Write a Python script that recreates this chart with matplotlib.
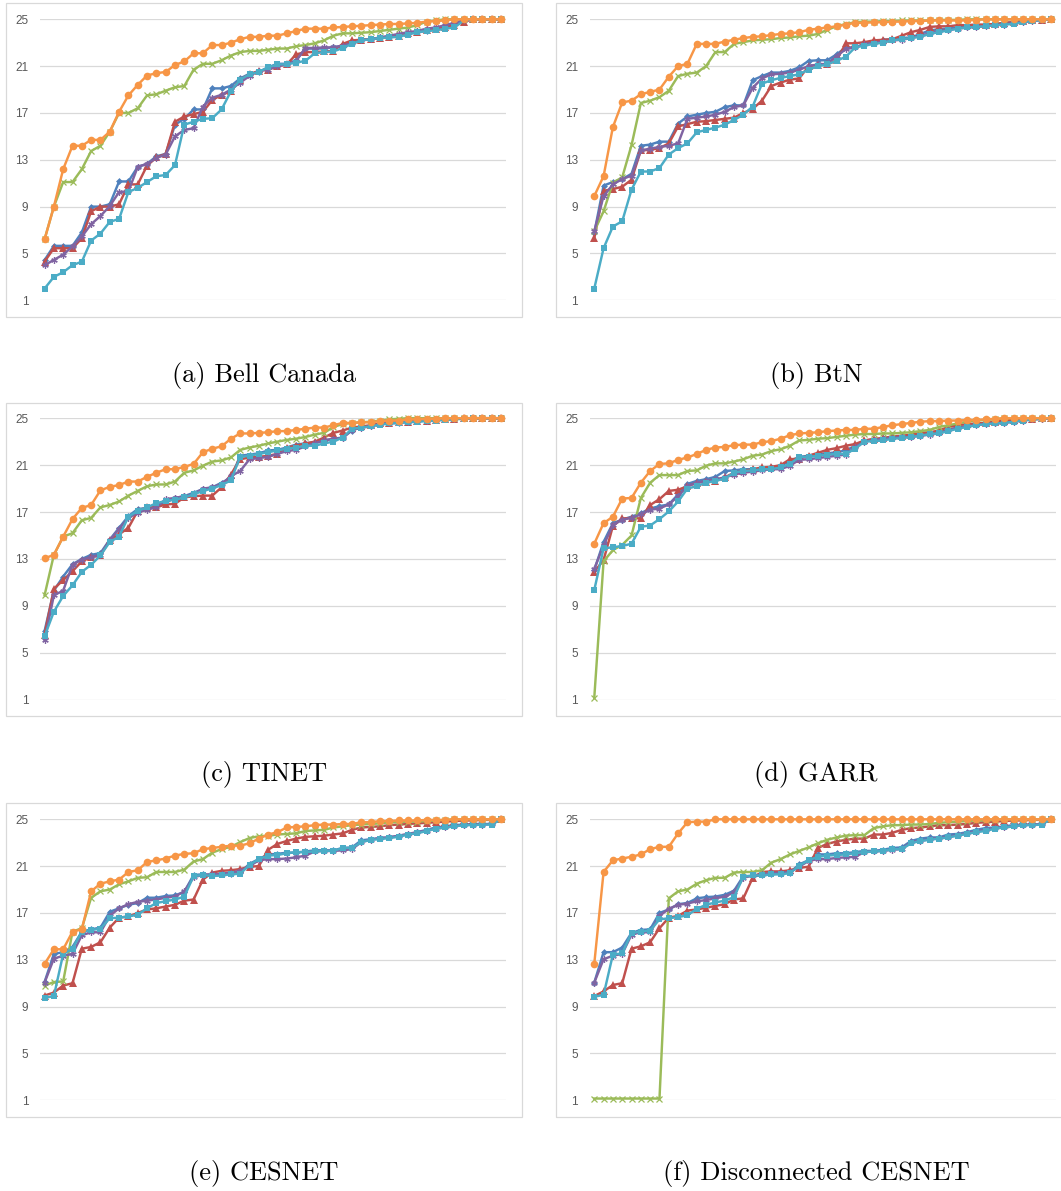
import matplotlib
matplotlib.use("Agg")
import matplotlib.pyplot as plt
from matplotlib.patches import Rectangle

# ------------------------------------------------------------------ data
x_points = list(range(1, 51))
y_ticks = [1, 5, 9, 13, 17, 21, 25]
captions = ["(a) Bell Canada", "(b) BtN", "(c) TINET", "(d) GARR",
            "(e) CESNET", "(f) Disconnected CESNET"]

# (a) Bell Canada
a_blue = [4.43, 5.65, 5.65, 5.65, 6.8, 9.0, 9.0, 9.2, 11.15, 11.15,
          12.4, 12.65, 13.3, 13.5, 16.0, 16.5, 17.3, 17.3, 19.1, 19.1,
          19.3, 19.95, 20.35, 20.5, 20.9, 21.2, 21.2, 21.5, 22.5, 22.5,
          22.5, 22.6, 22.75, 23.0, 23.25, 23.3, 23.4, 23.5, 23.6, 23.75,
          23.9, 24.0, 24.2, 24.4, 24.6, 24.85, 25, 25, 25, 25]
a_red = [4.3, 5.45, 5.45, 5.45, 6.3, 8.6, 9.0, 9.0, 9.2, 10.9,
         10.9, 12.5, 13.2, 13.5, 16.25, 16.7, 16.9, 17.1, 18.1, 18.55,
         18.85, 19.85, 20.3, 20.6, 20.7, 21.0, 21.15, 22.0, 22.2, 22.2,
         22.25, 22.3, 22.9, 23.2, 23.25, 23.3, 23.4, 23.5, 23.6, 23.8,
         23.95, 24.1, 24.2, 24.3, 24.5, 24.8, 25, 25, 25, 25]
a_green = [6.2, 9.0, 11.1, 11.1, 12.2, 13.75, 14.2, 15.4, 17.0, 17.0,
           17.4, 18.5, 18.6, 18.9, 19.2, 19.3, 20.7, 21.2, 21.2, 21.5,
           21.9, 22.2, 22.3, 22.3, 22.4, 22.5, 22.5, 22.7, 22.8, 22.95,
           23.2, 23.6, 23.8, 23.8, 23.85, 23.9, 24.0, 24.1, 24.2, 24.3,
           24.5, 24.8, 24.9, 25, 25, 25, 25, 25, 25, 25]
a_purple = [4.0, 4.45, 4.9, 5.6, 6.45, 7.5, 8.2, 9.05, 10.25, 10.3,
            12.4, 12.65, 13.15, 13.45, 15.0, 15.55, 15.7, 17.55, 18.3, 18.55,
            19.0, 19.6, 20.15, 20.6, 20.7, 21.0, 21.15, 21.45, 22.55, 22.55,
            22.6, 22.6, 22.75, 22.95, 23.2, 23.3, 23.45, 23.6, 23.75, 23.9,
            24.0, 24.2, 24.3, 24.5, 24.7, 24.9, 25, 25, 25, 25]
a_cyan = [2.0, 3.0, 3.4, 4.0, 4.3, 6.1, 6.7, 7.7, 7.95, 10.25,
          10.6, 11.1, 11.6, 11.7, 12.55, 16.0, 16.25, 16.5, 16.55, 17.3,
          18.85, 19.85, 20.3, 20.5, 20.9, 21.15, 21.15, 21.3, 21.45, 22.1,
          22.2, 22.25, 22.55, 22.9, 23.2, 23.3, 23.4, 23.45, 23.5, 23.7,
          23.9, 24.0, 24.05, 24.2, 24.3, 24.9, 25, 25, 25, 25]
a_orange = [6.2, 9.0, 12.2, 14.2, 14.2, 14.7, 14.7, 15.4, 17.1, 18.5,
            19.4, 20.2, 20.4, 20.5, 21.1, 21.4, 22.1, 22.1, 22.8, 22.8,
            23.0, 23.3, 23.5, 23.5, 23.6, 23.6, 23.8, 24.0, 24.2, 24.2,
            24.2, 24.3, 24.35, 24.4, 24.45, 24.5, 24.55, 24.6, 24.6, 24.65,
            24.7, 24.8, 24.85, 24.9, 25, 25, 25, 25, 25, 25]

# (b) BtN
b_blue = [6.75, 10.8, 11.1, 11.35, 11.8, 14.2, 14.3, 14.55, 14.55, 16.1,
          16.7, 16.85, 17.0, 17.1, 17.5, 17.65, 17.65, 19.8, 20.15, 20.45,
          20.45, 20.6, 20.9, 21.45, 21.5, 21.5, 22.0, 22.6, 22.6, 22.9,
          23.1, 23.25, 23.3, 23.4, 23.45, 23.75, 24.05, 24.15, 24.2, 24.3,
          24.35, 24.4, 24.5, 24.55, 24.7, 24.75, 24.85, 24.9, 24.95, 25]
b_red = [6.3, 10.35, 10.5, 10.7, 11.3, 13.8, 13.85, 14.0, 14.4, 15.85,
         16.05, 16.25, 16.3, 16.4, 16.5, 16.6, 17.0, 17.35, 18.05, 19.3,
         19.6, 19.85, 19.95, 21.0, 21.1, 21.15, 21.5, 22.95, 22.95, 23.05,
         23.2, 23.25, 23.3, 23.6, 23.9, 24.1, 24.35, 24.4, 24.4, 24.5,
         24.5, 24.55, 24.55, 24.6, 24.7, 24.75, 24.85, 24.9, 24.95, 25]
b_green = [6.9, 8.6, 11.05, 11.5, 14.25, 17.85, 18.05, 18.35, 18.9, 20.15,
           20.35, 20.45, 21.0, 22.2, 22.2, 22.9, 23.05, 23.2, 23.25, 23.3,
           23.4, 23.45, 23.55, 23.6, 23.75, 24.1, 24.4, 24.6, 24.75, 24.8,
           24.8, 24.85, 24.85, 24.9, 24.9, 24.9, 24.9, 24.95, 24.95, 24.95,
           25, 25, 25, 25, 25, 25, 25, 25, 25, 25]
b_purple = [6.9, 9.9, 10.9, 11.35, 11.65, 13.8, 13.95, 14.1, 14.2, 14.4,
            16.5, 16.6, 16.7, 16.85, 17.1, 17.5, 17.65, 19.15, 19.95, 20.3,
            20.35, 20.45, 20.7, 21.0, 21.15, 21.2, 21.85, 22.45, 22.6, 22.85,
            23.0, 23.1, 23.2, 23.25, 23.4, 23.6, 23.8, 24.0, 24.1, 24.2,
            24.3, 24.35, 24.4, 24.5, 24.55, 24.7, 24.75, 24.85, 24.95, 25]
b_cyan = [2.0, 5.45, 7.3, 7.75, 10.45, 12.0, 12.0, 12.3, 13.45, 14.0,
          14.4, 15.35, 15.55, 15.75, 16.0, 16.4, 16.85, 17.55, 19.5, 19.8,
          20.0, 20.15, 20.3, 20.7, 21.0, 21.15, 21.45, 21.8, 22.6, 22.75,
          22.9, 23.0, 23.2, 23.3, 23.4, 23.5, 23.75, 23.9, 24.05, 24.2,
          24.3, 24.35, 24.4, 24.5, 24.55, 24.6, 24.75, 24.85, 24.95, 25]
b_orange = [9.9, 11.6, 15.8, 17.9, 18.05, 18.6, 18.8, 19.0, 20.1, 21.0,
            21.2, 22.9, 22.9, 22.9, 23.1, 23.25, 23.4, 23.5, 23.55, 23.65,
            23.75, 23.8, 23.9, 24.1, 24.2, 24.3, 24.4, 24.55, 24.7, 24.7,
            24.75, 24.75, 24.8, 24.8, 24.85, 24.85, 24.9, 24.9, 24.9, 24.9,
            24.9, 24.95, 25, 25, 25, 25, 25, 25, 25, 25]

# (c) TINET
c_blue = [6.85, 10.3, 11.5, 12.55, 13.0, 13.35, 13.5, 14.65, 15.65, 16.65,
          17.25, 17.35, 17.5, 17.8, 18.2, 18.35, 18.65, 18.95, 19.1, 19.5,
          19.9, 21.8, 21.9, 22.0, 22.25, 22.3, 22.5, 22.75, 22.85, 22.95,
          23.1, 23.25, 23.35, 23.95, 24.25, 24.35, 24.5, 24.55, 24.6, 24.7,
          24.75, 24.8, 24.85, 24.9, 24.95, 25, 25, 25, 25, 25]
c_red = [6.55, 10.45, 11.2, 11.95, 12.8, 13.15, 13.3, 14.6, 15.1, 15.65,
         17.1, 17.4, 17.4, 17.65, 17.7, 18.25, 18.35, 18.4, 18.4, 19.1,
         20.2, 21.5, 21.65, 21.7, 21.8, 21.95, 22.5, 22.65, 22.85, 23.0,
         23.35, 23.75, 23.95, 24.2, 24.3, 24.4, 24.55, 24.6, 24.65, 24.7,
         24.75, 24.8, 24.85, 24.9, 24.95, 25, 25, 25, 25, 25]
c_green = [9.9, 13.35, 14.9, 15.2, 16.3, 16.5, 17.4, 17.6, 17.9, 18.4,
           18.8, 19.2, 19.35, 19.35, 19.6, 20.35, 20.55, 20.95, 21.3, 21.4,
           21.65, 22.3, 22.5, 22.65, 22.85, 23.0, 23.15, 23.25, 23.4, 23.6,
           23.75, 24.25, 24.5, 24.6, 24.65, 24.7, 24.8, 24.9, 24.95, 25,
           25, 25, 25, 25, 25, 25, 25, 25, 25, 25]
c_purple = [6.05, 9.9, 10.3, 12.5, 12.95, 13.15, 13.35, 14.6, 15.55, 16.5,
            16.95, 17.2, 17.4, 18.1, 18.2, 18.35, 18.5, 19.0, 19.1, 19.4,
            20.05, 20.5, 21.5, 21.6, 21.7, 21.95, 22.2, 22.3, 22.6, 22.85,
            23.1, 23.25, 23.3, 24.0, 24.2, 24.3, 24.5, 24.6, 24.65, 24.7,
            24.75, 24.8, 24.85, 24.9, 24.95, 25, 25, 25, 25, 25]
c_cyan = [6.4, 8.5, 9.85, 10.75, 11.9, 12.5, 13.3, 14.45, 14.9, 16.6,
          17.1, 17.4, 17.75, 17.95, 18.05, 18.25, 18.5, 18.8, 19.0, 19.3,
          19.7, 21.7, 21.8, 21.95, 22.1, 22.25, 22.4, 22.5, 22.65, 22.65,
          22.85, 23.0, 23.35, 24.1, 24.2, 24.3, 24.45, 24.55, 24.6, 24.65,
          24.7, 24.75, 24.8, 24.85, 24.9, 24.95, 25, 25, 25, 25]
c_orange = [13.05, 13.35, 14.9, 16.4, 17.35, 17.6, 18.85, 19.15, 19.3, 19.6,
            19.6, 20.0, 20.35, 20.65, 20.65, 20.85, 21.1, 22.1, 22.4, 22.6,
            23.25, 23.7, 23.7, 23.75, 23.8, 23.9, 23.9, 24.0, 24.1, 24.2,
            24.2, 24.4, 24.6, 24.6, 24.65, 24.65, 24.75, 24.8, 24.8, 24.9,
            24.9, 24.95, 24.95, 25, 25, 25, 25, 25, 25, 25]

# (d) GARR
d_blue = [12.05, 14.45, 16.05, 16.35, 16.6, 16.9, 17.3, 17.5, 17.65, 18.5,
          19.4, 19.65, 19.8, 20.0, 20.5, 20.55, 20.65, 20.65, 20.7, 20.8,
          20.95, 21.35, 21.7, 21.8, 21.95, 22.0, 22.1, 22.25, 22.65, 23.05,
          23.15, 23.3, 23.4, 23.4, 23.45, 23.6, 23.7, 23.8, 24.0, 24.2,
          24.3, 24.5, 24.55, 24.6, 24.7, 24.8, 24.85, 24.9, 24.95, 25]
d_red = [11.9, 12.9, 15.8, 16.45, 16.5, 16.45, 17.6, 18.1, 18.8, 18.9,
         19.2, 19.5, 19.6, 19.65, 19.95, 20.35, 20.5, 20.65, 20.8, 20.85,
         21.0, 21.5, 21.55, 21.8, 22.05, 22.3, 22.45, 22.65, 22.8, 23.1,
         23.25, 23.3, 23.45, 23.5, 23.6, 23.75, 23.8, 23.95, 24.25, 24.4,
         24.5, 24.55, 24.6, 24.7, 24.8, 24.85, 24.9, 24.95, 25, 25]
d_green = [1.15, 12.8, 13.75, 14.2, 15.0, 18.2, 19.5, 20.15, 20.15, 20.15,
           20.5, 20.55, 20.95, 21.15, 21.15, 21.3, 21.5, 21.8, 21.9, 22.2,
           22.35, 22.65, 23.1, 23.15, 23.25, 23.3, 23.4, 23.5, 23.6, 23.65,
           23.65, 23.7, 23.7, 23.75, 23.8, 23.9, 24.0, 24.25, 24.4, 24.55,
           24.7, 24.8, 24.85, 24.9, 25, 25, 25, 25, 25, 25]
d_purple = [12.15, 14.15, 15.9, 16.35, 16.5, 16.8, 17.2, 17.3, 17.65, 18.35,
            19.2, 19.5, 19.65, 19.8, 19.95, 20.2, 20.35, 20.45, 20.55, 20.65,
            20.65, 20.95, 21.45, 21.5, 21.6, 21.7, 21.8, 21.9, 22.55, 23.0,
            23.15, 23.25, 23.35, 23.4, 23.4, 23.5, 23.6, 23.7, 24.0, 24.2,
            24.3, 24.4, 24.5, 24.55, 24.6, 24.7, 24.8, 24.9, 24.95, 25]
d_cyan = [10.35, 13.9, 14.0, 14.1, 14.3, 15.75, 15.85, 16.4, 17.05, 17.9,
          19.0, 19.2, 19.5, 19.65, 19.85, 20.35, 20.5, 20.55, 20.65, 20.65,
          20.8, 21.1, 21.7, 21.7, 21.8, 21.9, 21.95, 21.95, 22.4, 23.0,
          23.05, 23.1, 23.25, 23.3, 23.4, 23.5, 23.65, 23.7, 23.9, 24.1,
          24.25, 24.4, 24.5, 24.55, 24.6, 24.7, 24.8, 24.9, 24.95, 25]
d_orange = [14.3, 16.05, 16.6, 18.15, 18.2, 19.5, 20.5, 21.1, 21.15, 21.45,
            21.65, 21.95, 22.3, 22.5, 22.55, 22.7, 22.75, 22.75, 22.95, 23.05,
            23.25, 23.55, 23.7, 23.75, 23.8, 23.9, 23.95, 24.0, 24.0, 24.1,
            24.1, 24.25, 24.4, 24.5, 24.6, 24.7, 24.75, 24.75, 24.8, 24.8,
            24.85, 24.85, 24.9, 24.95, 25, 25, 25, 25, 25, 25]

# (e) CESNET
e_blue = [11.1, 13.5, 13.65, 14.1, 15.4, 15.6, 15.75, 17.1, 17.4, 17.7,
          17.85, 18.3, 18.3, 18.45, 18.5, 18.8, 20.25, 20.3, 20.25, 20.3,
          20.35, 20.45, 21.2, 21.6, 22.0, 22.05, 22.15, 22.15, 22.25, 22.35,
          22.35, 22.35, 22.55, 22.6, 23.2, 23.3, 23.4, 23.45, 23.6, 23.7,
          23.9, 24.1, 24.3, 24.4, 24.5, 24.55, 24.6, 24.6, 24.6, 25]
e_red = [9.95, 10.2, 10.8, 11.0, 13.95, 14.1, 14.5, 15.75, 16.6, 16.7,
         17.0, 17.3, 17.4, 17.55, 17.7, 18.05, 18.15, 19.85, 20.45, 20.6,
         20.65, 20.75, 20.95, 21.0, 22.4, 22.9, 23.15, 23.35, 23.5, 23.55,
         23.6, 23.7, 23.8, 24.1, 24.3, 24.35, 24.4, 24.5, 24.55, 24.6,
         24.65, 24.7, 24.75, 24.8, 24.85, 24.9, 24.9, 24.95, 24.95, 25]
e_green = [10.8, 11.1, 11.15, 15.4, 15.7, 18.3, 18.85, 19.0, 19.45, 19.7,
           20.0, 20.05, 20.5, 20.5, 20.5, 20.7, 21.4, 21.6, 22.15, 22.45,
           22.65, 23.05, 23.4, 23.55, 23.6, 23.7, 23.75, 23.8, 24.0, 24.05,
           24.1, 24.3, 24.4, 24.5, 24.55, 24.6, 24.65, 24.75, 24.75, 24.8,
           24.8, 24.85, 24.9, 24.95, 25, 25, 25, 25, 25, 25]
e_purple = [11.05, 13.1, 13.35, 13.5, 15.1, 15.35, 15.35, 16.75, 17.4, 17.75,
            17.95, 18.05, 18.15, 18.3, 18.4, 18.85, 20.05, 20.25, 20.3, 20.35,
            20.45, 20.6, 21.0, 21.5, 21.6, 21.6, 21.65, 21.75, 21.9, 22.25,
            22.3, 22.3, 22.35, 22.45, 23.05, 23.25, 23.4, 23.45, 23.6, 23.75,
            23.9, 24.0, 24.2, 24.3, 24.4, 24.5, 24.55, 24.55, 24.6, 25]
e_cyan = [9.75, 9.9, 13.5, 13.95, 15.4, 15.55, 15.65, 16.55, 16.6, 16.7,
          16.85, 17.4, 17.85, 18.0, 18.15, 18.4, 20.15, 20.25, 20.15, 20.2,
          20.3, 20.35, 21.1, 21.6, 21.9, 21.95, 22.1, 22.2, 22.2, 22.25,
          22.3, 22.3, 22.55, 22.55, 23.05, 23.25, 23.3, 23.4, 23.5, 23.7,
          23.8, 24.0, 24.2, 24.3, 24.4, 24.5, 24.5, 24.55, 24.55, 25]
e_orange = [12.65, 13.9, 13.9, 15.4, 15.6, 18.85, 19.5, 19.7, 19.85, 20.5,
            20.65, 21.35, 21.5, 21.65, 21.9, 22.05, 22.1, 22.45, 22.55, 22.65,
            22.75, 22.75, 22.95, 23.35, 23.7, 23.9, 24.3, 24.35, 24.4, 24.5,
            24.55, 24.55, 24.6, 24.6, 24.75, 24.75, 24.85, 24.85, 24.9, 24.9,
            24.9, 24.95, 24.95, 24.95, 25, 25, 25, 25, 25, 25]

# (f) Disconnected CESNET
f_blue = [11.05, 13.65, 13.65, 14.05, 15.3, 15.55, 15.6, 17.0, 17.3, 17.75,
          17.85, 18.25, 18.35, 18.4, 18.55, 18.9, 20.15, 20.15, 20.2, 20.3,
          20.35, 20.45, 21.15, 21.5, 22.0, 22.0, 22.1, 22.1, 22.2, 22.3,
          22.3, 22.4, 22.55, 22.6, 23.15, 23.35, 23.45, 23.45, 23.7, 23.75,
          23.9, 24.1, 24.25, 24.3, 24.4, 24.5, 24.55, 24.55, 24.6, 25]
f_red = [9.9, 10.3, 10.85, 11.0, 13.95, 14.15, 14.5, 15.7, 16.6, 16.75,
         17.2, 17.3, 17.45, 17.6, 17.75, 18.15, 18.25, 20.0, 20.5, 20.55,
         20.55, 20.65, 20.85, 20.95, 22.55, 22.9, 23.1, 23.25, 23.35, 23.35,
         23.7, 23.7, 23.85, 24.1, 24.25, 24.3, 24.4, 24.5, 24.5, 24.55,
         24.6, 24.7, 24.75, 24.8, 24.85, 24.9, 24.9, 24.95, 24.95, 25]
f_green = [1.15, 1.15, 1.15, 1.15, 1.15, 1.15, 1.15, 1.15, 18.25, 18.85,
           19.0, 19.5, 19.8, 20.0, 20.0, 20.45, 20.5, 20.5, 20.65, 21.3,
           21.6, 22.0, 22.3, 22.6, 22.95, 23.25, 23.45, 23.6, 23.65, 23.65,
           24.25, 24.4, 24.5, 24.5, 24.55, 24.55, 24.6, 24.7, 24.75, 24.8,
           24.85, 24.9, 24.9, 24.95, 25, 25, 25, 25, 25, 25]
f_purple = [11.05, 13.05, 13.35, 13.5, 15.15, 15.35, 15.35, 16.75, 17.35, 17.7,
            17.8, 18.0, 18.1, 18.25, 18.4, 18.75, 20.0, 20.2, 20.3, 20.4,
            20.45, 20.5, 20.95, 21.45, 21.6, 21.6, 21.7, 21.75, 21.8, 22.2,
            22.25, 22.3, 22.4, 22.45, 23.05, 23.15, 23.3, 23.4, 23.5, 23.65,
            23.8, 23.95, 24.1, 24.25, 24.3, 24.4, 24.5, 24.55, 24.6, 25]
f_cyan = [9.85, 10.0, 13.45, 13.55, 15.3, 15.4, 15.5, 16.45, 16.55, 16.65,
          16.8, 17.35, 17.7, 17.9, 18.05, 18.35, 20.1, 20.2, 20.2, 20.3,
          20.3, 20.4, 21.05, 21.5, 21.8, 21.9, 21.95, 22.0, 22.1, 22.2,
          22.25, 22.3, 22.45, 22.45, 22.95, 23.15, 23.25, 23.35, 23.45, 23.6,
          23.75, 23.9, 24.0, 24.2, 24.3, 24.4, 24.5, 24.5, 24.55, 25]
f_orange = [12.65, 20.5, 21.5, 21.65, 21.8, 22.0, 22.45, 22.65, 22.65, 23.8,
            24.75, 24.8, 24.8, 25, 25, 25, 25, 25, 25, 25,
            25, 25, 25, 25, 25, 25, 25, 25, 25, 25,
            25, 25, 25, 25, 25, 25, 25, 25, 25, 25,
            25, 25, 25, 25, 25, 25, 25, 25, 25, 25]

panels = [
    (a_blue, a_red, a_green, a_purple, a_cyan, a_orange),
    (b_blue, b_red, b_green, b_purple, b_cyan, b_orange),
    (c_blue, c_red, c_green, c_purple, c_cyan, c_orange),
    (d_blue, d_red, d_green, d_purple, d_cyan, d_orange),
    (e_blue, e_red, e_green, e_purple, e_cyan, e_orange),
    (f_blue, f_red, f_green, f_purple, f_cyan, f_orange),
]

# ------------------------------------------------------------------ styles
styles = [
    dict(color="#4F81BD", marker="D", ms=3.5, mew=0),
    dict(color="#C0504D", marker="^", ms=5.2, mew=0),
    dict(color="#9BBB59", marker="x", ms=3.8, mew=0.9),
    dict(color="#8064A2", marker=(6, 2, 0), ms=4.6, mew=0.9),
    dict(color="#4BACC6", marker="s", ms=4.9, mew=0),
    dict(color="#F79646", marker="o", ms=5.5, mew=0),
]

W, H = 1061, 1191
fig = plt.figure(figsize=(W / 100, H / 100), dpi=100)

col_plot = [(39.9, 505.7), (589.6, 1055.5)]
col_frame = [(6.1, 521.7), (556.4, 1075.0)]
row_plot = [(19.3, 300.3), (418.2, 699.7), (819.3, 1100.3)]
row_frame = [(3.4, 316.9), (402.7, 715.9), (803.4, 1116.9)]
col_caption = [264, 816]
row_caption = [382, 781, 1180]

grid_c = "#D9D9D9"

for i, series in enumerate(panels):
    r, c = divmod(i, 2)
    fx0, fx1 = col_frame[c]
    fy0, fy1 = row_frame[r]
    fig.add_artist(Rectangle((fx0 / W, 1 - fy1 / H), (fx1 - fx0) / W, (fy1 - fy0) / H,
                             transform=fig.transFigure, fill=False, ec=grid_c, lw=0.9))
    x0, x1 = col_plot[c]
    y0, y1 = row_plot[r]
    ax = fig.add_axes([x0 / W, 1 - y1 / H, (x1 - x0) / W, (y1 - y0) / H])
    ax.set_facecolor("none")
    for vals, st in zip(series, styles):
        ax.plot(x_points, vals, lw=1.75, clip_on=False, zorder=3,
                markeredgecolor=st["color"], **st)
    ax.set_xlim(0.5, 50.5)
    ax.set_ylim(1, 25)
    ax.set_yticks(y_ticks)
    ax.set_xticks([])
    for s in ax.spines.values():
        s.set_visible(False)
    ax.yaxis.grid(True, color=grid_c, lw=0.9)
    ax.set_axisbelow(True)
    ax.tick_params(axis="y", length=0, pad=8.3, labelsize=8.5, labelcolor="#595959")
    for lab in ax.get_yticklabels():
        lab.set_fontfamily("Liberation Sans")
    fig.text(col_caption[c] / W, 1 - row_caption[r] / H, captions[i],
             ha="center", va="baseline", fontsize=19, family="cmr10")

fig.savefig("out.png", dpi=100)
